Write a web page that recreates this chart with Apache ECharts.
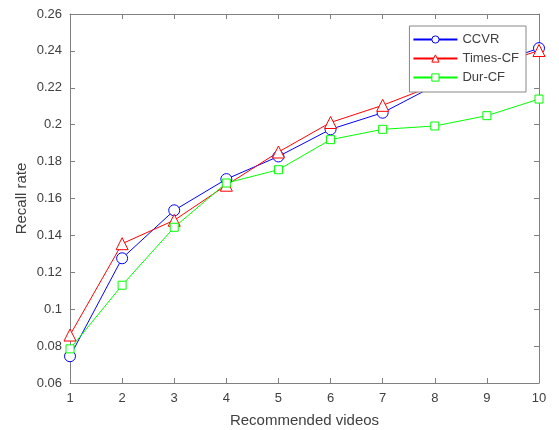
<!DOCTYPE html>
<html><head><meta charset="utf-8">
<script src="https://cdn.jsdelivr.net/npm/echarts@6/dist/echarts.min.js"></script>
<style>html,body{margin:0;padding:0;background:#fff}#c{width:559px;height:430px}</style>
</head><body><div id="c"></div>
<script>
const categories = [1,2,3,4,5,6,7,8,9,10];
const seriesNames = ['CCVR','Times-CF','Dur-CF'];
const ccvr    = [0.0745,0.1276,0.1536,0.1705,0.1828,0.1975,0.2065,0.2212,0.2315,0.2415];
const timesCF = [0.0860,0.1355,0.1482,0.1672,0.1852,0.2012,0.2105,0.2215,0.2310,0.2402];
const durCF   = [0.0785,0.1130,0.1444,0.1684,0.1756,0.1919,0.1975,0.1993,0.2049,0.2139];
const yTicks  = [0.06,0.26,0.02];

const colors = ['#0000ff','#ff0000','#00ff00'];
const symbols = ['circle','triangle','rect'];
const sizes = [11,12,8];
const axColor = '#808080';
const txtColor = '#404040';
const font = 'Arial, "Liberation Sans", sans-serif';
function pairs(v){ return categories.map((c,i)=>[c,v[i]]); }
function ser(i, data){
  const color = colors[i];
  return {name:seriesNames[i], type:'line', data:pairs(data), symbol:symbols[i], symbolSize:sizes[i],
    showAllSymbol:true,
    lineStyle:{color, width:1}, itemStyle:{color:'#fff', borderColor:color, borderWidth:1},
    emphasis:{disabled:true}, animation:false};
}
const chart = echarts.init(document.getElementById('c'));
chart.setOption({
  animation:false,
  textStyle:{fontFamily:font},
  grid:{left:70, right:20, top:14, bottom:47, outerBoundsMode:'none', containLabel:false},
  legend:{
    orient:'vertical', right:33, top:26, backgroundColor:'#fff',
    borderColor:'#888', borderWidth:1, padding:[7,7,8,3],
    itemWidth:44, itemHeight:9, itemGap:6, selectedMode:false,
    itemStyle:{borderWidth:1},
    textStyle:{fontSize:13, color:txtColor, fontFamily:font},
    data:seriesNames
  },
  xAxis:[{
    type:'value', min:1, max:10, interval:1,
    name:'Recommended videos', nameLocation:'middle', nameGap:30,
    nameTextStyle:{fontSize:15, color:txtColor},
    axisLine:{show:true, lineStyle:{color:axColor}},
    axisTick:{show:true, inside:true, length:5, lineStyle:{color:axColor}},
    axisLabel:{fontSize:13, color:txtColor, margin:9},
    splitLine:{show:false}
  },{
    type:'value', min:1, max:10, interval:1, position:'top',
    axisLine:{show:true, lineStyle:{color:axColor}},
    axisTick:{show:true, inside:true, length:5, lineStyle:{color:axColor}},
    axisLabel:{show:false}, splitLine:{show:false}
  }],
  yAxis:[{
    type:'value', min:yTicks[0], max:yTicks[1], interval:yTicks[2],
    name:'Recall rate', nameLocation:'middle', nameGap:41, nameMoveOverlap:false,
    nameTextStyle:{fontSize:15, color:txtColor},
    axisLine:{show:true, lineStyle:{color:axColor}},
    axisTick:{show:true, inside:true, length:5, lineStyle:{color:axColor}},
    axisLabel:{fontSize:13, color:txtColor, margin:8,
      formatter:v=>String(parseFloat(v.toFixed(2)))},
    splitLine:{show:false}
  },{
    type:'value', min:yTicks[0], max:yTicks[1], interval:yTicks[2], position:'right',
    axisLine:{show:true, lineStyle:{color:axColor}},
    axisTick:{show:true, inside:true, length:5, lineStyle:{color:axColor}},
    axisLabel:{show:false}, splitLine:{show:false}
  }],
  series:[ser(0, ccvr), ser(1, timesCF), ser(2, durCF)]
});
</script></body></html>
